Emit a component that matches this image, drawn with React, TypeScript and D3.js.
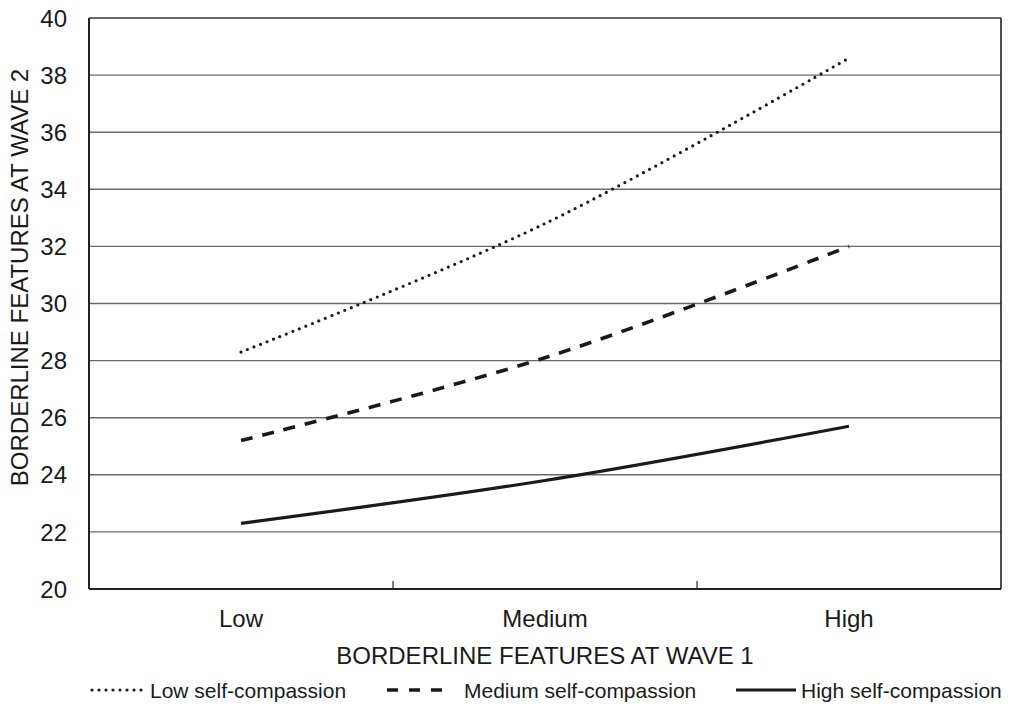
import React, { useEffect, useRef } from 'react';
import * as d3 from 'd3';

const categories = ['Low', 'Medium', 'High'];
const lowSC = [28.3, 32.8, 38.6];
const mediumSC = [25.2, 28.1, 32.0];
const highSC = [22.3, 23.8, 25.7];
const yTicks = [20, 22, 24, 26, 28, 30, 32, 34, 36, 38, 40];

const series = [
  { name: 'Low self-compassion', values: lowSC, dash: '0 7', width: 3.2 },
  { name: 'Medium self-compassion', values: mediumSC, dash: '12 10', width: 3.6 },
  { name: 'High self-compassion', values: highSC, dash: null, width: 3.2 },
];

const App = () => {
  const svgRef = useRef<SVGSVGElement>(null);

  useEffect(() => {
    document.body.style.margin = '0';
    const svg = d3.select(svgRef.current);
    svg.selectAll('*').remove();

    const width = 1014;
    const height = 704;
    const left = 89, right = 1001, top = 18, bottom = 589;
    const font = '"Liberation Sans", Arial, sans-serif';

    const x = d3.scaleBand().domain(categories).range([left, right]);
    const y = d3.scaleLinear().domain([20, 40]).range([bottom, top]);

    // gridlines
    svg.append('g')
      .selectAll('line')
      .data(yTicks.filter(d => d > 20))
      .enter()
      .append('line')
      .attr('x1', left)
      .attr('x2', right)
      .attr('y1', d => y(d))
      .attr('y2', d => y(d))
      .attr('stroke', d => (d === 40 ? '#333' : '#6a6a6a'))
      .attr('stroke-width', 1.4);

    // right border
    svg.append('line')
      .attr('x1', right).attr('x2', right)
      .attr('y1', top).attr('y2', bottom)
      .attr('stroke', '#222').attr('stroke-width', 1.6);

    // x category separators (inward ticks)
    const sepPositions = categories.slice(1).map(c => x(c) as number);
    svg.append('g')
      .selectAll('line')
      .data(sepPositions)
      .enter()
      .append('line')
      .attr('x1', d => d).attr('x2', d => d)
      .attr('y1', bottom).attr('y2', bottom - 8)
      .attr('stroke', '#222').attr('stroke-width', 1.2);

    // axes lines
    svg.append('line')
      .attr('x1', left).attr('x2', left)
      .attr('y1', top).attr('y2', bottom)
      .attr('stroke', '#222').attr('stroke-width', 2);
    svg.append('line')
      .attr('x1', left).attr('x2', right)
      .attr('y1', bottom).attr('y2', bottom)
      .attr('stroke', '#222').attr('stroke-width', 2);

    // y tick labels
    svg.append('g')
      .selectAll('text')
      .data(yTicks)
      .enter()
      .append('text')
      .attr('x', 67)
      .attr('y', d => y(d))
      .attr('dy', '0.36em')
      .attr('text-anchor', 'end')
      .attr('font-family', font)
      .attr('font-size', 24)
      .attr('fill', '#1a1a1a')
      .text(d => d);

    // x tick labels
    svg.append('g')
      .selectAll('text')
      .data(categories)
      .enter()
      .append('text')
      .attr('x', d => (x(d) as number) + x.bandwidth() / 2)
      .attr('y', 618)
      .attr('dy', '0.36em')
      .attr('text-anchor', 'middle')
      .attr('font-family', font)
      .attr('font-size', 24)
      .attr('fill', '#1a1a1a')
      .text(d => d);

    // axis titles
    svg.append('text')
      .attr('x', (left + right) / 2)
      .attr('y', 655)
      .attr('dy', '0.36em')
      .attr('text-anchor', 'middle')
      .attr('font-family', font)
      .attr('font-size', 24)
      .attr('fill', '#1a1a1a')
      .text('BORDERLINE FEATURES AT WAVE 1');

    svg.append('text')
      .attr('transform', `translate(19,${(top + bottom) / 2 - 26}) rotate(-90)`)
      .attr('dy', '0.36em')
      .attr('text-anchor', 'middle')
      .attr('font-family', font)
      .attr('font-size', 24)
      .attr('fill', '#1a1a1a')
      .text('BORDERLINE FEATURES AT WAVE 2');

    // lines
    const line = d3.line<number>()
      .x((_, i) => (x(categories[i]) as number) + x.bandwidth() / 2)
      .y(d => y(d))
      .curve(d3.curveCardinal.tension(0));

    series.forEach(s => {
      const p = svg.append('path')
        .datum(s.values)
        .attr('fill', 'none')
        .attr('stroke', '#1a1a1a')
        .attr('stroke-width', s.width)
        .attr('stroke-linecap', s.dash === '0 7' ? 'round' : 'butt')
        .attr('d', line);
      if (s.dash) p.attr('stroke-dasharray', s.dash);
    });

    // legend
    const legendY = 690;
    const legendItems = [
      { x0: 92, x1: 148, tx: 150 },
      { x0: 387, x1: 443, tx: 464 },
      { x0: 736, x1: 796, tx: 801 },
    ];
    series.forEach((s, i) => {
      const li = legendItems[i];
      const l = svg.append('line')
        .attr('x1', li.x0).attr('x2', li.x1)
        .attr('y1', legendY).attr('y2', legendY)
        .attr('stroke', '#1a1a1a')
        .attr('stroke-width', s.width)
        .attr('stroke-linecap', s.dash === '0 7' ? 'round' : 'butt');
      if (s.dash) l.attr('stroke-dasharray', s.dash === '0 7' ? '0 7' : '11 11');
      svg.append('text')
        .attr('x', li.tx)
        .attr('y', legendY)
        .attr('dy', '0.36em')
        .attr('font-family', font)
        .attr('font-size', 21)
        .attr('fill', '#1a1a1a')
        .text(s.name);
    });

    svg.attr('width', width).attr('height', height);
  }, []);

  return <svg ref={svgRef} width={1014} height={704} style={{ display: 'block', background: '#fff' }} />;
};

export default App;
